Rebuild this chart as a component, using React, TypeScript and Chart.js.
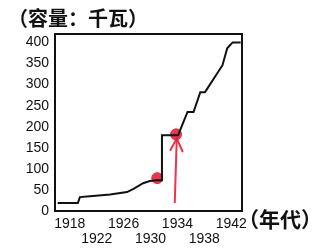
import React, { useEffect, useRef } from "react";
import { Chart, registerables } from "chart.js";

Chart.register(...registerables);

const years = [1916.2, 1919.2, 1919.5, 1921, 1924, 1926.5, 1927.4, 1928.9, 1929.9, 1931.0, 1931.7, 1931.7, 1934.1, 1935.5, 1936.4, 1937.4, 1938.1, 1940.7, 1941.4, 1942.2, 1943.4];
const capacity = [19, 19, 33, 35, 39, 45, 52, 66, 71, 73, 73, 180, 180, 235, 235, 282, 282, 346, 386, 400, 400];
const xTicks = [1918, 1922, 1926, 1930, 1934, 1938, 1942];
const yTicks = [0, 50, 100, 150, 200, 250, 300, 350, 400];
const markYears = [1931.0, 1933.8];
const markValues = [78, 182];
const arrowYears = [1933.6, 1933.9];
const arrowValues = [19, 172];
const headYears = [1932.9, 1933.9, 1934.8];
const headValues = [143, 172, 140];
const yTitle = "（容量：千瓦）";
const xTitle = "（年代）";

const RED = "rgba(232,32,58,0.9)";

export default function App() {
  const ref = useRef<HTMLCanvasElement | null>(null);
  useEffect(() => {
    if (!ref.current) return;
    const framePlugin = {
      id: "frame",
      beforeDatasetsDraw(chart: any) {
        const { ctx, chartArea } = chart;
        ctx.save();
        ctx.strokeStyle = "#111";
        ctx.lineWidth = 2;
        ctx.strokeRect(chartArea.left, chartArea.top, chartArea.right - chartArea.left, chartArea.bottom - chartArea.top);
        ctx.restore();
      },
      afterDraw(chart: any) {
        const { ctx } = chart;
        ctx.save();
        ctx.fillStyle = "#111";
        ctx.textBaseline = "middle";
        ctx.textAlign = "left";
        ctx.font = 'bold 20px "Noto Sans CJK SC"';
        ctx.fillText(yTitle, 8, 18);
        ctx.font = 'bold 21px "Noto Sans CJK SC"';
        ctx.fillText(xTitle, 238, 219);
        ctx.restore();
      },
    };
    const chart = new Chart(ref.current, {
      type: "line",
      data: {
        datasets: [
          {
            data: years.map((x, i) => ({ x, y: capacity[i] })),
            borderColor: "#111",
            borderWidth: 2,
            pointRadius: 0,
            tension: 0,
            order: 0,
          },
          {
            data: markYears.map((x, i) => ({ x, y: markValues[i] })),
            showLine: false,
            pointRadius: 5.5,
            pointBackgroundColor: RED,
            pointBorderColor: RED,
            order: 1,
          },
          {
            data: arrowYears.map((x, i) => ({ x, y: arrowValues[i] })),
            borderColor: RED,
            borderWidth: 2,
            pointRadius: 0,
            order: 2,
          },
          {
            data: headYears.map((x, i) => ({ x, y: headValues[i] })),
            borderColor: RED,
            borderWidth: 2,
            pointRadius: 0,
            order: 2,
          },
        ],
      },
      options: {
        animation: false,
        responsive: false,
        layout: { padding: { top: 34, right: 73, left: 0, bottom: 0 } },
        plugins: { legend: { display: false }, tooltip: { enabled: false } },
        scales: {
          x: {
            type: "linear",
            min: 1915.8,
            max: 1943.6,
            grid: { display: false, drawTicks: false },
            border: { display: false },
            afterBuildTicks(scale: any) {
              scale.ticks = xTicks.map((v) => ({ value: v }));
            },
            afterFit(scale: any) {
              scale.height = 37;
            },
            ticks: {
              autoSkip: false,
              maxRotation: 0,
              padding: 5,
              color: "#111",
              font: { family: "Liberation Sans", size: 14, lineHeight: 1.1 },
              callback(v: any, i: number) {
                const s = String(v);
                return i % 2 === 0 ? s : ["", s];
              },
            },
          },
          y: {
            min: 0,
            max: 420,
            grid: { display: false, drawTicks: false },
            border: { display: false },
            afterBuildTicks(scale: any) {
              scale.ticks = yTicks.map((v) => ({ value: v }));
            },
            afterFit(scale: any) {
              scale.width = 55;
            },
            ticks: {
              padding: 6,
              color: "#111",
              font: { family: "Liberation Sans", size: 14 },
              callback(v: any) {
                return String(v);
              },
            },
          },
        },
      },
      plugins: [framePlugin],
    });
    return () => chart.destroy();
  }, []);
  return (
    <div style={{ position: "fixed", left: 0, top: 0, width: 315, height: 248, background: "#fff" }}>
      <canvas ref={ref} width={315} height={248} />
    </div>
  );
}
